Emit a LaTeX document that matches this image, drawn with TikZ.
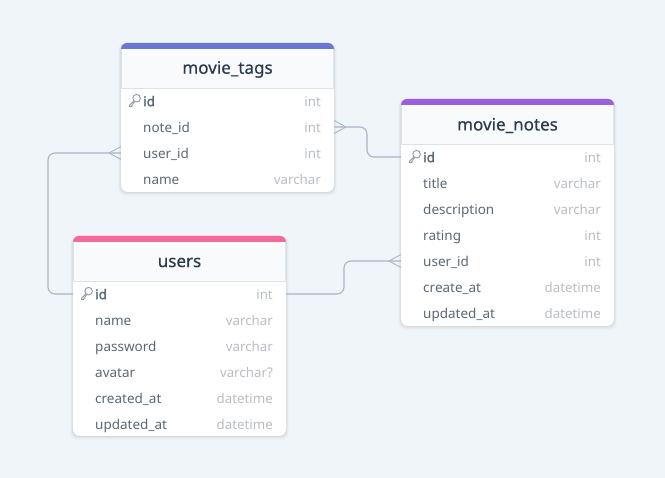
\documentclass[tikz,border=0pt]{standalone}
\usepackage{fontspec}
\setmainfont{Noto Sans}
\newfontfamily\keyfont{Noto Sans}[FakeBold=1.6]
\newfontfamily\titlefont{Noto Sans}[FakeBold=0.5]
\usetikzlibrary{calc}
\definecolor{bgc}{HTML}{F0F5F9}
\definecolor{linec}{HTML}{A9B5C7}
\definecolor{hdr}{HTML}{F8FAFB}
\definecolor{hline}{HTML}{DCE3EC}
\definecolor{titlec}{HTML}{2B3A4E}
\definecolor{namec}{HTML}{5B6875}
\definecolor{typec}{HTML}{B9BEC3}
\definecolor{keyc}{HTML}{8E99A5}
\definecolor{blueb}{HTML}{6A78D1}
\definecolor{purpleb}{HTML}{9C5FE0}
\definecolor{pinkb}{HTML}{F4689A}
\tikzset{
  x=1pt,y=-1pt,
  rowbox/.style={minimum width=213pt,minimum height=26pt,inner sep=0pt,outer sep=0pt},
  rowname/.style={anchor=base west,inner sep=0pt,text=namec,font=\fontsize{13.5}{15}\selectfont},
  rowkey/.style={rowname,font=\fontsize{13.5}{15}\keyfont},
  rowtype/.style={anchor=base east,inner sep=0pt,text=typec,font=\fontsize{13.3}{15}\selectfont},
  tabletitle/.style={inner sep=0pt,text=titlec,font=\fontsize{17}{20}\titlefont},
  conn/.style={draw=linec,line width=1.1pt,rounded corners=7pt},
  crow/.style={draw=linec,line width=0.9pt},
  keyicon/.style={draw=keyc,line width=0.9pt},
}
% table frame: #1 name, #2 left, #3 top, #4 bottom, #5 colour, #6 title
\newcommand{\dbtable}[6]{%
  \foreach \s/\o in {5/0.012,4/0.015,3/0.02,2/0.025,1/0.03}{%
    \fill[black,opacity=\o,rounded corners=7pt] (#2-\s*0.6,#3) rectangle (#2+213+\s*0.6,#4+\s*0.8);}
  \fill[white,rounded corners=7pt] (#2,#3) rectangle (#2+213,#4);
  \fill[#5,rounded corners=6pt] (#2,#3) rectangle (#2+213,#3+14);
  \fill[hdr] (#2,#3+6) rectangle (#2+213,#3+45);
  \draw[hline,line width=1pt] (#2,#3+45.5) -- (#2+213,#3+45.5);
  \draw[hline,line width=0.6pt] (#2+0.3,#3+6) -- (#2+0.3,#3+45);
  \draw[hline,line width=0.6pt] (#2+212.7,#3+6) -- (#2+212.7,#3+45);
  \node[tabletitle] (#1) at (#2+106.5,#3+26.5) {#6};
}
% row: #1 name, #2 left, #3 centre y, #4 text, #5 type
\newcommand{\dbrow}[5]{%
  \node[rowbox] (#1) at (#2+106.5,#3) {};
  \node[rowname] (#1n) at (#2+22,#3+5.7) {#4};
  \node[rowtype] (#1t) at (#2+200,#3+5.7) {#5};
}
\newcommand{\dbkeyrow}[5]{%
  \node[rowbox] (#1) at (#2+106.5,#3) {};
  \node[rowkey] (#1n) at (#2+22,#3+5.2) {#4};
  \node[rowtype] (#1t) at (#2+200,#3+5.7) {#5};
  \begin{scope}[shift={(#2+8,#3)}]
    \draw[keyicon] (7.6,-2.8) circle[radius=3.8];
    \draw[keyicon,line join=round] (4.8,-0.2) -- (0.6,4.2) -- (0.6,5.6) -- (2.8,5.6) -- (2.8,4) -- (4,4) -- (4,2.8) -- (5.6,1.2);
  \end{scope}
}
\begin{document}
\begin{tikzpicture}
\useasboundingbox (0,0) rectangle (665,478);
\fill[bgc] (0,0) rectangle (665,478);

% tables
\dbtable{tags}{121}{43}{192}{blueb}{movie\_tags}
\dbkeyrow{tagsId}{121}{101}{id}{int}
\dbrow{tagsNote}{121}{127}{note\_id}{int}
\dbrow{tagsUser}{121}{153}{user\_id}{int}
\dbrow{tagsName}{121}{179}{name}{varchar}

\dbtable{notes}{401}{99}{326}{purpleb}{movie\_notes}
\dbkeyrow{notesId}{401}{157}{id}{int}
\dbrow{notesTitle}{401}{183}{title}{varchar}
\dbrow{notesDesc}{401}{209}{description}{varchar}
\dbrow{notesRating}{401}{235}{rating}{int}
\dbrow{notesUser}{401}{261}{user\_id}{int}
\dbrow{notesCreate}{401}{287}{create\_at}{datetime}
\dbrow{notesUpdate}{401}{313}{updated\_at}{datetime}

\dbtable{users}{73}{236}{436}{pinkb}{users}
\dbkeyrow{usersId}{73}{294}{id}{int}
\dbrow{usersName}{73}{320}{name}{varchar}
\dbrow{usersPass}{73}{346}{password}{varchar}
\dbrow{usersAvatar}{73}{371.5}{avatar}{varchar?}
\dbrow{usersCreated}{73}{397.5}{created\_at}{datetime}
\dbrow{usersUpdated}{73}{424}{updated\_at}{datetime}

% connectors
\draw[conn] (tagsNote.east) -- ++(33,0) |- (notesId.west);
\draw[conn] (tagsUser.west) -- ++(-73,0) |- (usersId.west);
\draw[conn] (usersId.east) -- ++(58,0) |- (notesUser.west);

% crow's feet
\draw[crow] ($(tagsNote.east)+(12,0)$) -- ($(tagsNote.east)+(0,-6.5)$);
\draw[crow] ($(tagsNote.east)+(12,0)$) -- ($(tagsNote.east)+(0,6.5)$);
\draw[crow] ($(tagsUser.west)+(-12,0)$) -- ($(tagsUser.west)+(0,-6.5)$);
\draw[crow] ($(tagsUser.west)+(-12,0)$) -- ($(tagsUser.west)+(0,6.5)$);
\draw[crow] ($(notesUser.west)+(-12,0)$) -- ($(notesUser.west)+(0,-6.5)$);
\draw[crow] ($(notesUser.west)+(-12,0)$) -- ($(notesUser.west)+(0,6.5)$);
\end{tikzpicture}
\end{document}
